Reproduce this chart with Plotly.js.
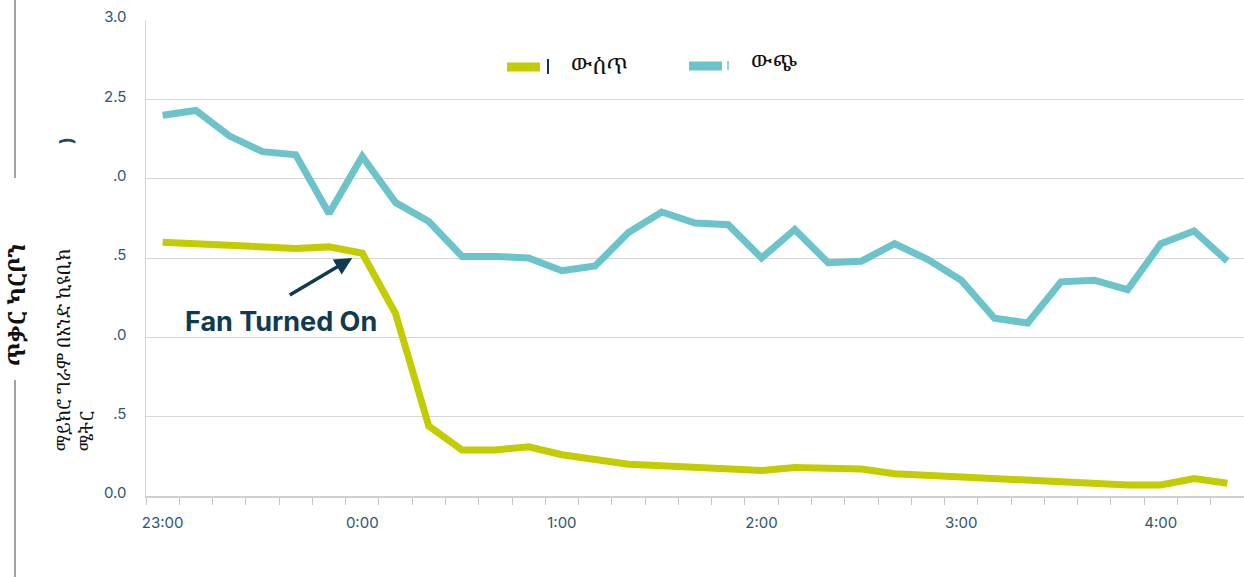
<!DOCTYPE html>
<html>
<head>
<meta charset="utf-8">
<script src="https://cdn.plot.ly/plotly-3.0.1.min.js"></script>
<style>html,body{margin:0;padding:0;background:#fff;}#chart{width:1244px;height:577px;}</style>
</head>
<body>
<div id="chart"></div>
<script>
// ---- data ----
const times = ['23:00','23:10','23:20','23:30','23:40','23:50',
  '0:00','0:10','0:20','0:30','0:40','0:50',
  '1:00','1:10','1:20','1:30','1:40','1:50',
  '2:00','2:10','2:20','2:30','2:40','2:50',
  '3:00','3:10','3:20','3:30','3:40','3:50',
  '4:00','4:10','4:20'];
const inside = [1.60,1.59,1.58,1.57,1.56,1.57,
  1.53,1.15,0.44,0.29,0.29,0.31,
  0.26,0.23,0.20,0.19,0.18,0.16,
  0.16,0.18,0.18,0.17,0.14,0.13,
  0.11,0.10,0.09,0.08,0.075,0.07,
  0.07,0.11,0.08];
const outside = [2.40,2.43,2.27,2.17,2.15,1.78,
  2.14,1.85,1.73,1.51,1.51,1.50,
  1.42,1.45,1.66,1.79,1.72,1.71,
  1.50,1.68,1.47,1.48,1.59,1.49,
  1.36,1.12,1.09,1.35,1.36,1.30,
  1.59,1.67,1.48];
const xTickLabels = ['23:00','0:00','1:00','2:00','3:00','4:00'];
const yTickVals = [0,0.5,1,1.5,2,2.5,3];
const yTickText = ['0.0','.5','.0','.5','.0','2.5','3.0'];
const seriesNames = ['ውስጥ','ውጭ'];
const titleMain = 'ጥቃር ካርቦን';
const titleUnit = 'ማይክሮ ግራም በአንድ ኪዩቢክ<br>ሜትር';
const noteText = 'Fan Turned On';
const noteTime = '23:57';
const noteValue = 1.50;

// ---- helpers ----
function toDate(t){
  const [h,m] = t.split(':').map(Number);
  const day = h >= 12 ? '2024-01-01' : '2024-01-02';
  return day + ' ' + String(h).padStart(2,'0') + ':' + String(m).padStart(2,'0');
}
const xs = times.map(toDate);

const W = 1244, H = 577, L = 146, R = 0, T = 20, B = 81;
const pw = W - L - R, ph = H - T - B;
const px = x => (x - L) / pw;
const py = y => (H - B - y) / ph;

const ETH = '"Noto Serif Ethiopic","Abyssinica SIL",FreeSerif,"Noto Sans Ethiopic","DejaVu Sans",serif';
const YEL = '#c3cc00', TEAL = '#6cc4ca', NAVY = '#0f3a4f', TICK = '#2e5671';

const traces = [
  {x: xs, y: inside, name: seriesNames[0], type: 'scatter', mode: 'lines',
   line: {color: YEL, width: 7}, showlegend: false},
  {x: xs, y: outside, name: seriesNames[1], type: 'scatter', mode: 'lines',
   line: {color: TEAL, width: 7}, showlegend: false}
];

const layout = {
  width: W, height: H,
  margin: {l: L, r: R, t: T, b: B, pad: 0},
  paper_bgcolor: '#fff', plot_bgcolor: '#fff',
  font: {family: 'Inter, "Open Sans", sans-serif', color: TICK},
  xaxis: {
    type: 'date',
    range: ['2024-01-01 22:55', '2024-01-02 04:25'],
    tickvals: xTickLabels.map(toDate), ticktext: xTickLabels,
    ticks: 'outside', ticklen: 0, ticklabelstandoff: 12,
    minor: {dtick: 600000, tick0: '2024-01-01 22:55', ticks: 'outside', ticklen: 7, tickcolor: '#c8c8c8', tickwidth: 1, showgrid: false},
    showgrid: false, showline: true, linecolor: '#cfcfcf', linewidth: 1.5,
    tickfont: {size: 15, color: TICK, family: 'Inter, sans-serif'},
    fixedrange: true, zeroline: false
  },
  yaxis: {
    range: [0, 3], tickvals: yTickVals, ticktext: yTickText,
    showgrid: true, gridcolor: '#d6d6d6', gridwidth: 1,
    showline: true, linecolor: '#d6d6d6', linewidth: 1.5,
    zeroline: false, ticks: '', ticklabelstandoff: 15, ticklabelshift: -3,
    tickfont: {size: 15, color: TICK, family: 'Inter, sans-serif'}
  },
  shapes: [
    {type: 'line', xref: 'paper', yref: 'paper', x0: px(15), x1: px(15), y0: py(0), y1: py(178), line: {color: '#666', width: 1.2}},
    {type: 'line', xref: 'paper', yref: 'paper', x0: px(15), x1: px(15), y0: py(380), y1: py(577), line: {color: '#666', width: 1.2}},
    {type: 'line', xref: 'paper', yref: 'paper', x0: px(507), x1: px(540), y0: py(67), y1: py(67), line: {color: YEL, width: 9}},
    {type: 'line', xref: 'paper', yref: 'paper', x0: px(548), x1: px(548), y0: py(59), y1: py(74), line: {color: NAVY, width: 2}},
    {type: 'line', xref: 'paper', yref: 'paper', x0: px(689), x1: px(722), y0: py(66), y1: py(66), line: {color: TEAL, width: 9}},
    {type: 'line', xref: 'paper', yref: 'paper', x0: px(728), x1: px(728), y0: py(61), y1: py(70), line: {color: TEAL, width: 1.5}}
  ],
  annotations: [
    {xref: 'paper', yref: 'paper', x: px(569), y: py(65), xanchor: 'left', yanchor: 'middle', showarrow: false,
     text: seriesNames[0], font: {family: ETH, size: 22, color: '#111'}},
    {xref: 'paper', yref: 'paper', x: px(749), y: py(62), xanchor: 'left', yanchor: 'middle', showarrow: false,
     text: seriesNames[1], font: {family: ETH, size: 22, color: '#111'}},
    {xref: 'paper', yref: 'paper', x: px(16), y: py(305), xanchor: 'center', yanchor: 'middle', showarrow: false,
     textangle: -90, text: '<b>' + titleMain + '</b>', font: {family: ETH, size: 23, color: '#111'}},
    {xref: 'paper', yref: 'paper', x: px(74), y: py(350), xanchor: 'center', yanchor: 'middle', showarrow: false,
     textangle: -90, align: 'left', text: titleUnit, font: {family: ETH, size: 18, color: '#111'}},
    {xref: 'paper', yref: 'paper', x: px(66), y: py(140), xanchor: 'center', yanchor: 'middle', showarrow: false,
     textangle: -90, text: '<b>)</b>', font: {family: 'Inter, sans-serif', size: 18, color: '#1d4b61'}},
    {x: toDate(noteTime), y: noteValue, xref: 'x', yref: 'y', text: '', showarrow: true,
     axref: 'pixel', ayref: 'pixel', ax: -64, ay: 38, arrowhead: 2, arrowsize: 1, arrowwidth: 3.5, arrowcolor: NAVY, standoff: 0},
    {xref: 'paper', yref: 'paper', x: px(281), y: py(321), xanchor: 'center', yanchor: 'middle', showarrow: false,
     text: '<b>' + noteText + '</b>', font: {family: 'Inter, sans-serif', size: 27, color: NAVY}}
  ]
};

Plotly.newPlot('chart', traces, layout, {displayModeBar: false, staticPlot: true});
</script>
</body>
</html>
